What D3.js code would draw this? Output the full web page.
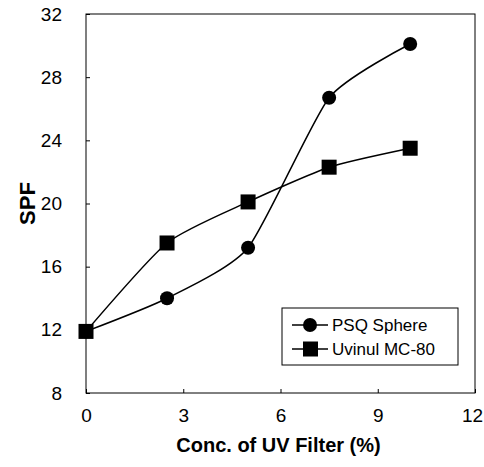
<!DOCTYPE html>
<html lang="en">
<head>
<meta charset="UTF-8">
<title>SPF vs UV filter</title>
<script src="https://d3js.org/d3.v7.min.js"></script>
<style>
  html,body{margin:0;padding:0;background:#fff;}
  svg{display:block;font-family:"Liberation Sans",Arial,sans-serif;}
</style>
</head>
<body>
<svg id="chart" width="484" height="467"></svg>
<script>
// data
const conc = [0, 2.5, 5, 7.5, 10];
const psqSphere = [11.9, 14.0, 17.2, 26.7, 30.1];
const uvinul = [11.9, 17.5, 20.1, 22.3, 23.5];
const seriesNames = ["PSQ Sphere", "Uvinul MC-80"];
const xTicks = [0, 3, 6, 9, 12];
const yTicks = [8, 12, 16, 20, 24, 28, 32];

const svg = d3.select("#chart");
const m = {left: 86, right: 9, top: 14, bottom: 74};
const W = 484 - m.left - m.right, H = 467 - m.top - m.bottom;

const x = d3.scaleLinear().domain([0, 12]).range([m.left, m.left + W]);
const y = d3.scaleLinear().domain([8, 32]).range([m.top + H, m.top]);

// frame
svg.append("rect")
  .attr("x", m.left).attr("y", m.top).attr("width", W).attr("height", H)
  .attr("fill", "none").attr("stroke", "#000").attr("stroke-width", 1);

// axes (ticks pointing inward)
const xAxis = svg.append("g").attr("transform", `translate(0,${m.top + H})`)
  .call(d3.axisBottom(x).tickValues(xTicks).tickSize(-4).tickPadding(16));
const yAxis = svg.append("g").attr("transform", `translate(${m.left},0)`)
  .call(d3.axisLeft(y).tickValues(yTicks).tickSize(-4).tickPadding(24));
[xAxis, yAxis].forEach(a => {
  a.select(".domain").remove();
  a.selectAll("line").attr("stroke", "#000");
  a.selectAll("text").attr("font-size", 19).attr("fill", "#000")
    .attr("font-family", "Liberation Sans, Arial, sans-serif");
});
// last x label sits at the very edge
xAxis.selectAll(".tick text").filter(d => d === 12).attr("dx", -3);

// axis titles
svg.append("text").attr("x", x(6) - 2).attr("y", 452)
  .attr("text-anchor", "middle").attr("font-size", 20).attr("font-weight", "bold")
  .text("Conc. of UV Filter (%)");
svg.append("text").attr("transform", `translate(35,${y(20)}) rotate(-90)`)
  .attr("text-anchor", "middle").attr("font-size", 22).attr("font-weight", "bold")
  .text("SPF");

const line = d3.line()
  .x(d => x(d[0])).y(d => y(d[1]))
  .curve(d3.curveCardinal.tension(0.4));

const psqPts = conc.map((c, i) => [c, psqSphere[i]]);
const uviPts = conc.map((c, i) => [c, uvinul[i]]);

[psqPts, uviPts].forEach(pts => {
  svg.append("path").datum(pts).attr("d", line)
    .attr("fill", "none").attr("stroke", "#000").attr("stroke-width", 1.5);
});

svg.selectAll("circle.psq").data(psqPts).enter().append("circle")
  .attr("cx", d => x(d[0])).attr("cy", d => y(d[1])).attr("r", 7).attr("fill", "#000");
svg.selectAll("rect.uvi").data(uviPts).enter().append("rect")
  .attr("x", d => x(d[0]) - 7.5).attr("y", d => y(d[1]) - 7.5)
  .attr("width", 15).attr("height", 15).attr("fill", "#000");

// legend
const lg = svg.append("g").attr("transform", "translate(282,308)");
lg.append("rect").attr("width", 176).attr("height", 57)
  .attr("fill", "#fff").attr("stroke", "#000").attr("stroke-width", 1);
seriesNames.forEach((name, i) => {
  const cy = 17 + i * 24;
  lg.append("line").attr("x1", 10).attr("x2", 46).attr("y1", cy).attr("y2", cy)
    .attr("stroke", "#000").attr("stroke-width", 1.5);
  if (i === 0) lg.append("circle").attr("cx", 28).attr("cy", cy).attr("r", 7);
  else lg.append("rect").attr("x", 21).attr("y", cy - 7.5).attr("width", 15).attr("height", 15);
  lg.append("text").attr("x", 50).attr("y", cy + 6).attr("font-size", 17).text(name);
});
</script>
</body>
</html>
